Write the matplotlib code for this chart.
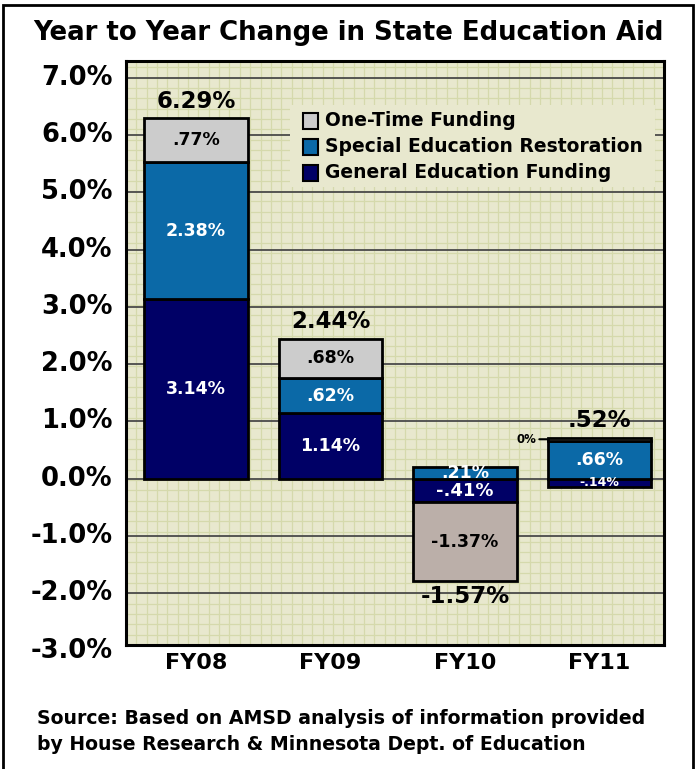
import matplotlib
matplotlib.use('Agg')
import matplotlib.pyplot as plt
import matplotlib.patches as mpatches
from matplotlib.transforms import blended_transform_factory
import numpy as np

# ---------------- data ----------------
categories = ['FY08', 'FY09', 'FY10', 'FY11']
general = [3.14, 1.14, -0.41, -0.14]
special = [2.38, 0.62, 0.21, 0.66]
onetime = [0.77, 0.68, -1.37, 0.06]
general_labels = ['3.14%', '1.14%', '-.41%', '-.14%']
special_labels = ['2.38%', '.62%', '.21%', '.66%']
onetime_labels = ['.77%', '.68%', '-1.37%', '0%']
total_labels = ['6.29%', '2.44%', '-1.57%', '.52%']
totals = [6.29, 2.44, -1.57, 0.52]
ytick_values = [-3, -2, -1, 0, 1, 2, 3, 4, 5, 6, 7]
ytick_labels = ['-3.0%', '-2.0%', '-1.0%', '0.0%', '1.0%', '2.0%', '3.0%',
                '4.0%', '5.0%', '6.0%', '7.0%']
series_names = ['One-Time Funding', 'Special Education Restoration',
                'General Education Funding']

# ---------------- style ----------------
C_GEN = '#000066'
C_SPE = '#0B69A7'
C_ONE = ['#CCCCCC', '#CCCCCC', '#BBAFA9', '#BBAFA9']
BG = '#E8E8CE'
MINOR = '#D5D9AC'

plt.rcParams['font.family'] = ['DejaVu Sans']
plt.rcParams['font.weight'] = 'bold'

W, H = 696, 769
fig = plt.figure(figsize=(W / 100, H / 100), dpi=100)
fig.patch.set_facecolor('white')

def ax_rect(l, t, r, b):
    return [l / W, 1 - b / H, (r - l) / W, (b - t) / H]

ax = fig.add_axes(ax_rect(126, 61, 664, 645))
ax.set_facecolor(BG)
ylo, yhi = -2.90, 7.29
xlo, xhi = -0.52, 3.48
ax.set_ylim(ylo, yhi)
ax.set_xlim(xlo, xhi)

# texture grid
for xv in np.arange(xlo, xhi, 4.0 / 52):
    ax.axvline(xv, color=MINOR, lw=0.9, zorder=0.5)
for yv in np.arange(ylo, yhi, 0.18):
    ax.axhline(yv, color=MINOR, lw=0.9, zorder=0.5)
# major gridlines
for yv in ytick_values:
    if ylo < yv < yhi:
        ax.axhline(yv, color='#4A4A4A', lw=1.3, zorder=1)

x = np.arange(len(categories))
width = 0.77
pos_base = np.zeros(len(x))
neg_base = np.zeros(len(x))

def stack(vals, colors, labels, txtcolors, sizes):
    global pos_base, neg_base
    vals = np.array(vals, dtype=float)
    bottom = np.where(vals >= 0, pos_base, neg_base)
    ax.bar(x, vals, width=width, bottom=bottom, color=colors,
           edgecolor='black', linewidth=2, zorder=3)
    for i, v in enumerate(vals):
        if abs(v) < 0.1:
            ax.annotate(labels[i], xy=(x[i] - width / 2, bottom[i] + v / 2),
                        xytext=(-8, 0), textcoords='offset points',
                        ha='right', va='center', fontsize=8.5, fontweight='bold',
                        color='black', zorder=5,
                        arrowprops=dict(arrowstyle='-', color='black', lw=1.5,
                                        shrinkA=0, shrinkB=0))
        else:
            ax.text(x[i], bottom[i] + v / 2, labels[i], ha='center',
                    va='center', color=txtcolors[i], fontsize=sizes[i],
                    fontweight='bold', zorder=5)
    pos_base = pos_base + np.where(vals >= 0, vals, 0)
    neg_base = neg_base + np.where(vals < 0, vals, 0)

stack(general, C_GEN, general_labels, ['white'] * 4, [12.5, 12.5, 13, 9])
stack(special, C_SPE, special_labels, ['white'] * 4, [12.5, 12.5, 12.5, 12.5])
stack(onetime, C_ONE, onetime_labels, ['black'] * 4, [12.5, 12.5, 12.5, 12.5])

for i, t in enumerate(totals):
    if t >= 0:
        ax.annotate(total_labels[i], xy=(x[i], pos_base[i]), xytext=(0, 4),
                    textcoords='offset points', ha='center', va='bottom',
                    fontsize=16.5, fontweight='bold', zorder=6)
    else:
        ax.annotate(total_labels[i], xy=(x[i], neg_base[i]), xytext=(0, -3),
                    textcoords='offset points', ha='center', va='top',
                    fontsize=16.5, fontweight='bold', zorder=6)

# axes frame
for s in ax.spines.values():
    s.set_linewidth(2.2)
    s.set_color('black')
    s.set_zorder(7)

ax.set_yticks([])
ax.set_xticks(x)
ax.set_xticklabels(categories, fontsize=16, fontweight='bold')
ax.tick_params(axis='x', length=0, pad=6)

trans = blended_transform_factory(ax.transAxes, ax.transData)
for v, lab in zip(ytick_values, ytick_labels):
    ax.text(-0.025, v, lab, transform=trans, ha='right', va='center',
            fontsize=18.5, fontweight='bold', clip_on=False)

# legend (manual)
ax.add_patch(mpatches.Rectangle(((290 - 126) / 538, 1 - (187 - 61) / 584),
                                (655 - 290) / 538, (187 - 105) / 584,
                                transform=ax.transAxes, facecolor=BG,
                                edgecolor='none', zorder=2))
leg_colors = [C_ONE[0], C_SPE, C_GEN]
for i, (name, col) in enumerate(zip(series_names, leg_colors)):
    yc = 121 + 26 * i
    ya = 1 - (yc - 61) / 584
    ax.add_patch(mpatches.Rectangle(((303 - 126) / 538, ya - 7.5 / 584),
                                    15 / 538, 15 / 584, transform=ax.transAxes,
                                    facecolor=col, edgecolor='black', lw=1.5,
                                    zorder=4))
    ax.text((325 - 126) / 538, ya, name, transform=ax.transAxes, ha='left',
            va='center', fontsize=13.5, fontweight='bold', zorder=4)

# title and source
fig.text(0.5, 1 - 33 / H, 'Year to Year Change in State Education Aid',
         ha='center', va='center', fontsize=18.7, fontweight='bold')
fig.text(37 / W, 1 - 718 / H,
         'Source: Based on AMSD analysis of information provided',
         ha='left', va='center', fontsize=13.6, fontweight='bold')
fig.text(37 / W, 1 - 745 / H,
         'by House Research & Minnesota Dept. of Education',
         ha='left', va='center', fontsize=13.6, fontweight='bold')

# outer border
fig.patches.append(mpatches.Rectangle((3 / W, -0.02), (693 - 3) / W,
                                      1.02 - 5 / H, transform=fig.transFigure,
                                      fill=False, edgecolor='black', lw=2))

fig.savefig('out.png', dpi=100)
